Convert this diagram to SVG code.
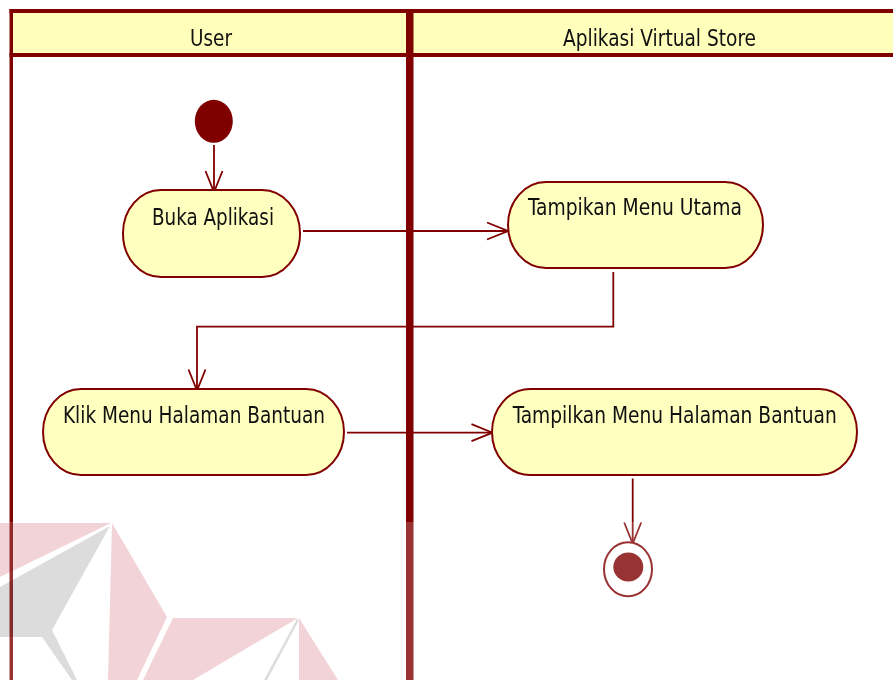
<svg xmlns="http://www.w3.org/2000/svg" width="893" height="680" viewBox="0 0 893 680">
  <style>
    .lane-head { fill: #ffffbb; }
    .frame { fill: #800000; }
    .action { fill: #ffffc0; stroke: #800000; stroke-width: 2; }
    .label { font-family: "DejaVu Sans Condensed", "DejaVu Sans", sans-serif; font-size: 23px; fill: #111111; text-anchor: middle; }
    .flow { fill: none; stroke: #800000; stroke-width: 1.8; }
    .solid { fill: #800000; }
    .wm-red { fill: #f2d3d7; mix-blend-mode: multiply; }
    .wm-grey { fill: #dcdcdc; mix-blend-mode: multiply; }
  </style>
  <defs>
    <marker id="open-arrow" markerUnits="userSpaceOnUse" viewBox="-2 -2 25 22" refX="21" refY="8.5" markerWidth="25" markerHeight="22" orient="auto" overflow="visible">
      <path d="M0,0 L21,8.5 L0,17" fill="none" stroke="#800000" stroke-width="1.8"/>
    </marker>
  </defs>

  <rect x="0" y="0" width="893" height="680" fill="#ffffff"/>

  <!-- swimlanes -->
  <g id="lanes">
    <rect class="lane-head" x="13" y="13" width="880" height="40"/>
    <rect class="frame" x="9.5" y="9" width="883.5" height="4"/>
    <rect class="frame" x="9.5" y="53" width="883.5" height="4"/>
    <rect class="frame" x="9.5" y="9" width="3.5" height="671"/>
    <rect class="frame" x="406" y="9" width="7.5" height="671"/>
    <text class="label" x="211" y="46" textLength="42" lengthAdjust="spacingAndGlyphs">User</text>
    <text class="label" x="659.5" y="45.5" textLength="193" lengthAdjust="spacingAndGlyphs">Aplikasi Virtual Store</text>
  </g>

  <!-- connectors -->
  <g id="connectors">
    <path class="flow" d="M214,145 L214,192" marker-end="url(#open-arrow)"/>
    <path class="flow" d="M303,231 L508,231" marker-end="url(#open-arrow)"/>
    <path class="flow" d="M613.3,272 L613.3,326.7 L197,326.7 L197,390.5" marker-end="url(#open-arrow)"/>
    <path class="flow" d="M347,432.7 L492.5,432.7" marker-end="url(#open-arrow)"/>
    <path class="flow" d="M632.7,478.5 L632.7,543.5" marker-end="url(#open-arrow)"/>
  </g>

  <!-- nodes -->
  <g id="start">
    <ellipse class="solid" cx="213.8" cy="121.3" rx="19" ry="21.5"/>
  </g>
  <g id="buka-aplikasi">
    <rect class="action" x="123" y="190" width="177" height="87" rx="38" ry="43"/>
    <text class="label" x="213" y="225" textLength="122" lengthAdjust="spacingAndGlyphs">Buka Aplikasi</text>
  </g>
  <g id="tampikan-menu-utama">
    <rect class="action" x="508" y="182" width="255" height="86" rx="38" ry="43"/>
    <text class="label" x="635" y="215" textLength="214" lengthAdjust="spacingAndGlyphs">Tampikan Menu Utama</text>
  </g>
  <g id="klik-menu-halaman-bantuan">
    <rect class="action" x="43" y="389" width="301" height="86" rx="38" ry="43"/>
    <text class="label" x="194" y="422.7" textLength="262" lengthAdjust="spacingAndGlyphs">Klik Menu Halaman Bantuan</text>
  </g>
  <g id="tampilkan-menu-halaman-bantuan">
    <rect class="action" x="492" y="389" width="365" height="86" rx="38" ry="43"/>
    <text class="label" x="674.7" y="422.7" textLength="324" lengthAdjust="spacingAndGlyphs">Tampilkan Menu Halaman Bantuan</text>
  </g>
  <g id="end">
    <ellipse cx="628" cy="569.2" rx="24" ry="27" fill="#ffffff" stroke="#800000" stroke-width="2"/>
    <ellipse class="solid" cx="628.3" cy="567" rx="15" ry="14.5"/>
  </g>

  <!-- faded logo across the lower part -->
  <g id="watermark">
    <rect x="0" y="522" width="893" height="158" fill="#ffffff" fill-opacity="0.2"/>
    <polygon class="wm-red" points="0,523 111,523 0,577"/>
    <polygon class="wm-grey" points="110,526 0,587 0,637 42,637 72,680 77,680 52,630"/>
    <polygon class="wm-red" points="112,523 167,617 137,680 108,680"/>
    <polygon class="wm-red" points="173,618 298,618 193,680 143,680"/>
    <polygon class="wm-grey" points="297,619 299,620 267,680 264,680"/>
    <polygon class="wm-red" points="299,618 338,680 299,680"/>
  </g>
</svg>
